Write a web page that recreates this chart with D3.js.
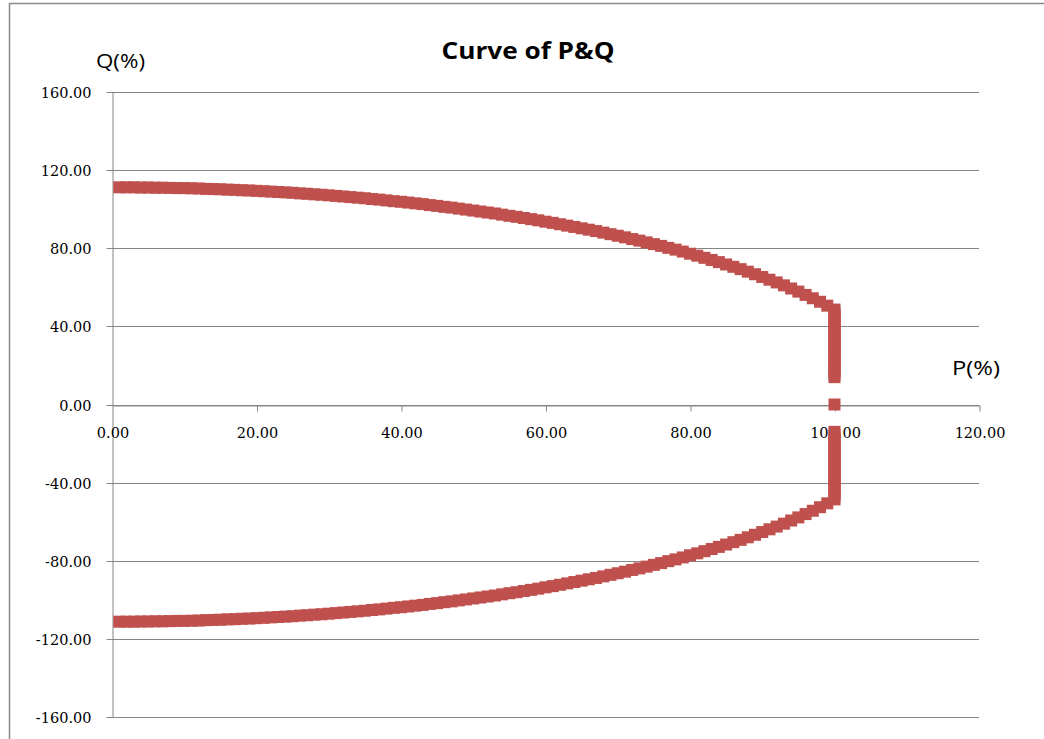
<!DOCTYPE html>
<html>
<head>
<meta charset="utf-8">
<script src="https://cdn.jsdelivr.net/npm/d3@7"></script>
<style>
  html, body { margin: 0; padding: 0; background: #fff; }
  svg { display: block; }
</style>
</head>
<body>
<svg id="chart" width="1044" height="739"></svg>
<script>
// ---------- data ----------
const chartTitle = "Curve of P&Q";
const xAxisLabel = "P(%)";
const yAxisLabel = "Q(%)";
const xTicks = [0, 20, 40, 60, 80, 100, 120];
const yTicks = [-160, -120, -80, -40, 0, 40, 80, 120, 160];

// upper branch (P, Q)
const upperP = [1,2,3,4,5,6,7,8,9,10,11,12,13,14,15,16,17,18,19,20,21,22,23,24,25,26,27,28,29,30,31,32,33,34,35,36,37,38,39,40,41,42,43,44,45,46,47,48,49,50,51,52,53,54,55,56,57,58,59,60,61,62,63,64,65,66,67,68,69,70,71,72,73,74,75,76,77,78,79,80,81,82,83,84,85,86,87,88,89,90,91,92,93,94,95,96,97,98,99];
const upperQ = [111.2,111.2,111.2,111.1,111.1,111.0,111.0,110.9,110.8,110.8,
                110.7,110.6,110.4,110.3,110.2,110.0,109.9,109.7,109.6,109.4,
                109.2,109.0,108.8,108.6,108.4,108.1,107.9,107.6,107.4,107.1,
                106.8,106.5,106.2,105.9,105.6,105.2,104.9,104.5,104.1,103.8,
                103.4,103.0,102.6,102.1,101.7,101.2,100.8,100.3,99.8,99.3,
                98.8,98.3,97.8,97.2,96.6,96.1,95.5,94.9,94.3,93.6,
                93.0,92.3,91.6,90.9,90.2,89.5,88.8,88.0,87.2,86.4,
                85.6,84.7,83.9,83.0,82.1,81.2,80.2,79.3,78.3,77.2,
                76.2,75.1,74.0,72.9,71.7,70.5,69.3,68.0,66.7,65.3,
                63.9,62.5,61.0,59.4,57.8,56.1,54.4,52.6,50.6];

// vertical edge at P = 100
const edgeP = 100;
const edgeQ = [48.6,47,45.5,44,42.5,41,39.5,38,36.5,35,33.5,32,30.5,29,27.5,26,24.5,23,21.5,20,18.5,17,15.5,14,
               0,
               -14,-15.5,-17,-18.5,-20,-21.5,-23,-24.5,-26,-27.5,-29,-30.5,-32,-33.5,-35,-36.5,-38,-39.5,-41,-42.5,-44,-45.5,-47,-48.6];

// lower branch (P, Q)
const lowerP = [1,2,3,4,5,6,7,8,9,10,11,12,13,14,15,16,17,18,19,20,21,22,23,24,25,26,27,28,29,30,31,32,33,34,35,36,37,38,39,40,41,42,43,44,45,46,47,48,49,50,51,52,53,54,55,56,57,58,59,60,61,62,63,64,65,66,67,68,69,70,71,72,73,74,75,76,77,78,79,80,81,82,83,84,85,86,87,88,89,90,91,92,93,94,95,96,97,98,99];
const lowerQ = [-111.2,-111.2,-111.2,-111.1,-111.1,-111.0,-111.0,-110.9,-110.8,-110.8,
                -110.7,-110.6,-110.4,-110.3,-110.2,-110.0,-109.9,-109.7,-109.6,-109.4,
                -109.2,-109.0,-108.8,-108.6,-108.4,-108.1,-107.9,-107.6,-107.4,-107.1,
                -106.8,-106.5,-106.2,-105.9,-105.6,-105.2,-104.9,-104.5,-104.1,-103.8,
                -103.4,-103.0,-102.6,-102.1,-101.7,-101.2,-100.8,-100.3,-99.8,-99.3,
                -98.8,-98.3,-97.8,-97.2,-96.6,-96.1,-95.5,-94.9,-94.3,-93.6,
                -93.0,-92.3,-91.6,-90.9,-90.2,-89.5,-88.8,-88.0,-87.2,-86.4,
                -85.6,-84.7,-83.9,-83.0,-82.1,-81.2,-80.2,-79.3,-78.3,-77.2,
                -76.2,-75.1,-74.0,-72.9,-71.7,-70.5,-69.3,-68.0,-66.7,-65.3,
                -63.9,-62.5,-61.0,-59.4,-57.8,-56.1,-54.4,-52.6,-50.6];

// ---------- drawing ----------
const svg = d3.select("#chart");
const W = 1044, H = 739;
const plot = { left: 112, right: 979, top: 92, bottom: 717 };
const gridColor = "#868686";
const markerColor = "#C0504D";
const markerSize = 12;

// outer chart frame
svg.append("rect")
  .attr("x", 9.5).attr("y", 3.5)
  .attr("width", W + 20).attr("height", H + 20)
  .attr("fill", "#fff")
  .attr("stroke", "#8a8a8a")
  .attr("stroke-width", 1.5);

const x = d3.scaleLinear().domain([0, 120]).range([plot.left, plot.right]);
const y = d3.scaleLinear().domain([-160, 160]).range([plot.bottom, plot.top]);

// horizontal gridlines
svg.append("g").selectAll("line")
  .data(yTicks)
  .join("line")
  .attr("x1", plot.left).attr("x2", plot.right)
  .attr("y1", d => Math.round(y(d)) + 0.5).attr("y2", d => Math.round(y(d)) + 0.5)
  .attr("stroke", gridColor).attr("stroke-width", 1);

const fmt = d3.formatLocale({ decimal: ".", thousands: ",", grouping: [3], currency: ["", ""], minus: "-" }).format(".2f");
const tickFont = "'DejaVu Serif', serif";

// y axis
const yAxisG = svg.append("g")
  .attr("transform", `translate(${plot.left + 0.5},0.5)`)
  .call(d3.axisLeft(y).tickValues(yTicks).tickFormat(fmt).tickSize(6).tickSizeOuter(0));
yAxisG.select(".domain").attr("stroke", gridColor);
yAxisG.selectAll(".tick line").attr("stroke", gridColor);
yAxisG.selectAll(".tick text")
  .attr("x", -21).attr("dy", "0.36em")
  .attr("font-family", tickFont).attr("font-size", 14.5).attr("fill", "#000");
yAxisG.selectAll(".tick").attr("transform", d => `translate(0,${Math.round(y(d))})`);

// x axis at Q = 0
const xAxisG = svg.append("g")
  .attr("transform", `translate(0.5,${Math.round(y(0)) + 0.5})`)
  .call(d3.axisBottom(x).tickValues(xTicks).tickFormat(fmt).tickSize(6).tickSizeOuter(0));
xAxisG.select(".domain").attr("stroke", gridColor);
xAxisG.selectAll(".tick line").attr("stroke", gridColor);
xAxisG.selectAll(".tick text")
  .attr("y", 32).attr("dy", 0)
  .attr("font-family", tickFont).attr("font-size", 14.5).attr("fill", "#000");
xAxisG.selectAll(".tick").filter(d => d === 0).select("line").remove();

// title and axis titles
svg.append("text")
  .attr("x", 528).attr("y", 59)
  .attr("text-anchor", "middle")
  .attr("font-family", "'Open Sans', sans-serif")
  .attr("font-weight", 700).attr("font-size", 24)
  .attr("textLength", 173).attr("lengthAdjust", "spacingAndGlyphs")
  .attr("fill", "#000")
  .text(chartTitle);

svg.append("text")
  .attr("x", 96).attr("y", 68)
  .attr("font-family", "'Open Sans', sans-serif")
  .attr("font-size", 20)
  .attr("textLength", 49).attr("lengthAdjust", "spacingAndGlyphs")
  .attr("fill", "#000")
  .text(yAxisLabel);

svg.append("text")
  .attr("x", 952).attr("y", 375)
  .attr("font-family", "'Open Sans', sans-serif")
  .attr("font-size", 20)
  .attr("textLength", 48).attr("lengthAdjust", "spacingAndGlyphs")
  .attr("fill", "#000")
  .text(xAxisLabel);

// points
const points = [];
upperP.forEach((p, i) => points.push({ p, q: upperQ[i] }));
edgeQ.forEach(q => points.push({ p: edgeP, q }));
lowerP.forEach((p, i) => points.push({ p, q: lowerQ[i] }));

svg.append("g").selectAll("rect")
  .data(points)
  .join("rect")
  .attr("x", d => x(d.p) - markerSize / 2)
  .attr("y", d => y(d.q) - markerSize / 2)
  .attr("width", markerSize).attr("height", markerSize)
  .attr("fill", markerColor);
</script>
</body>
</html>
